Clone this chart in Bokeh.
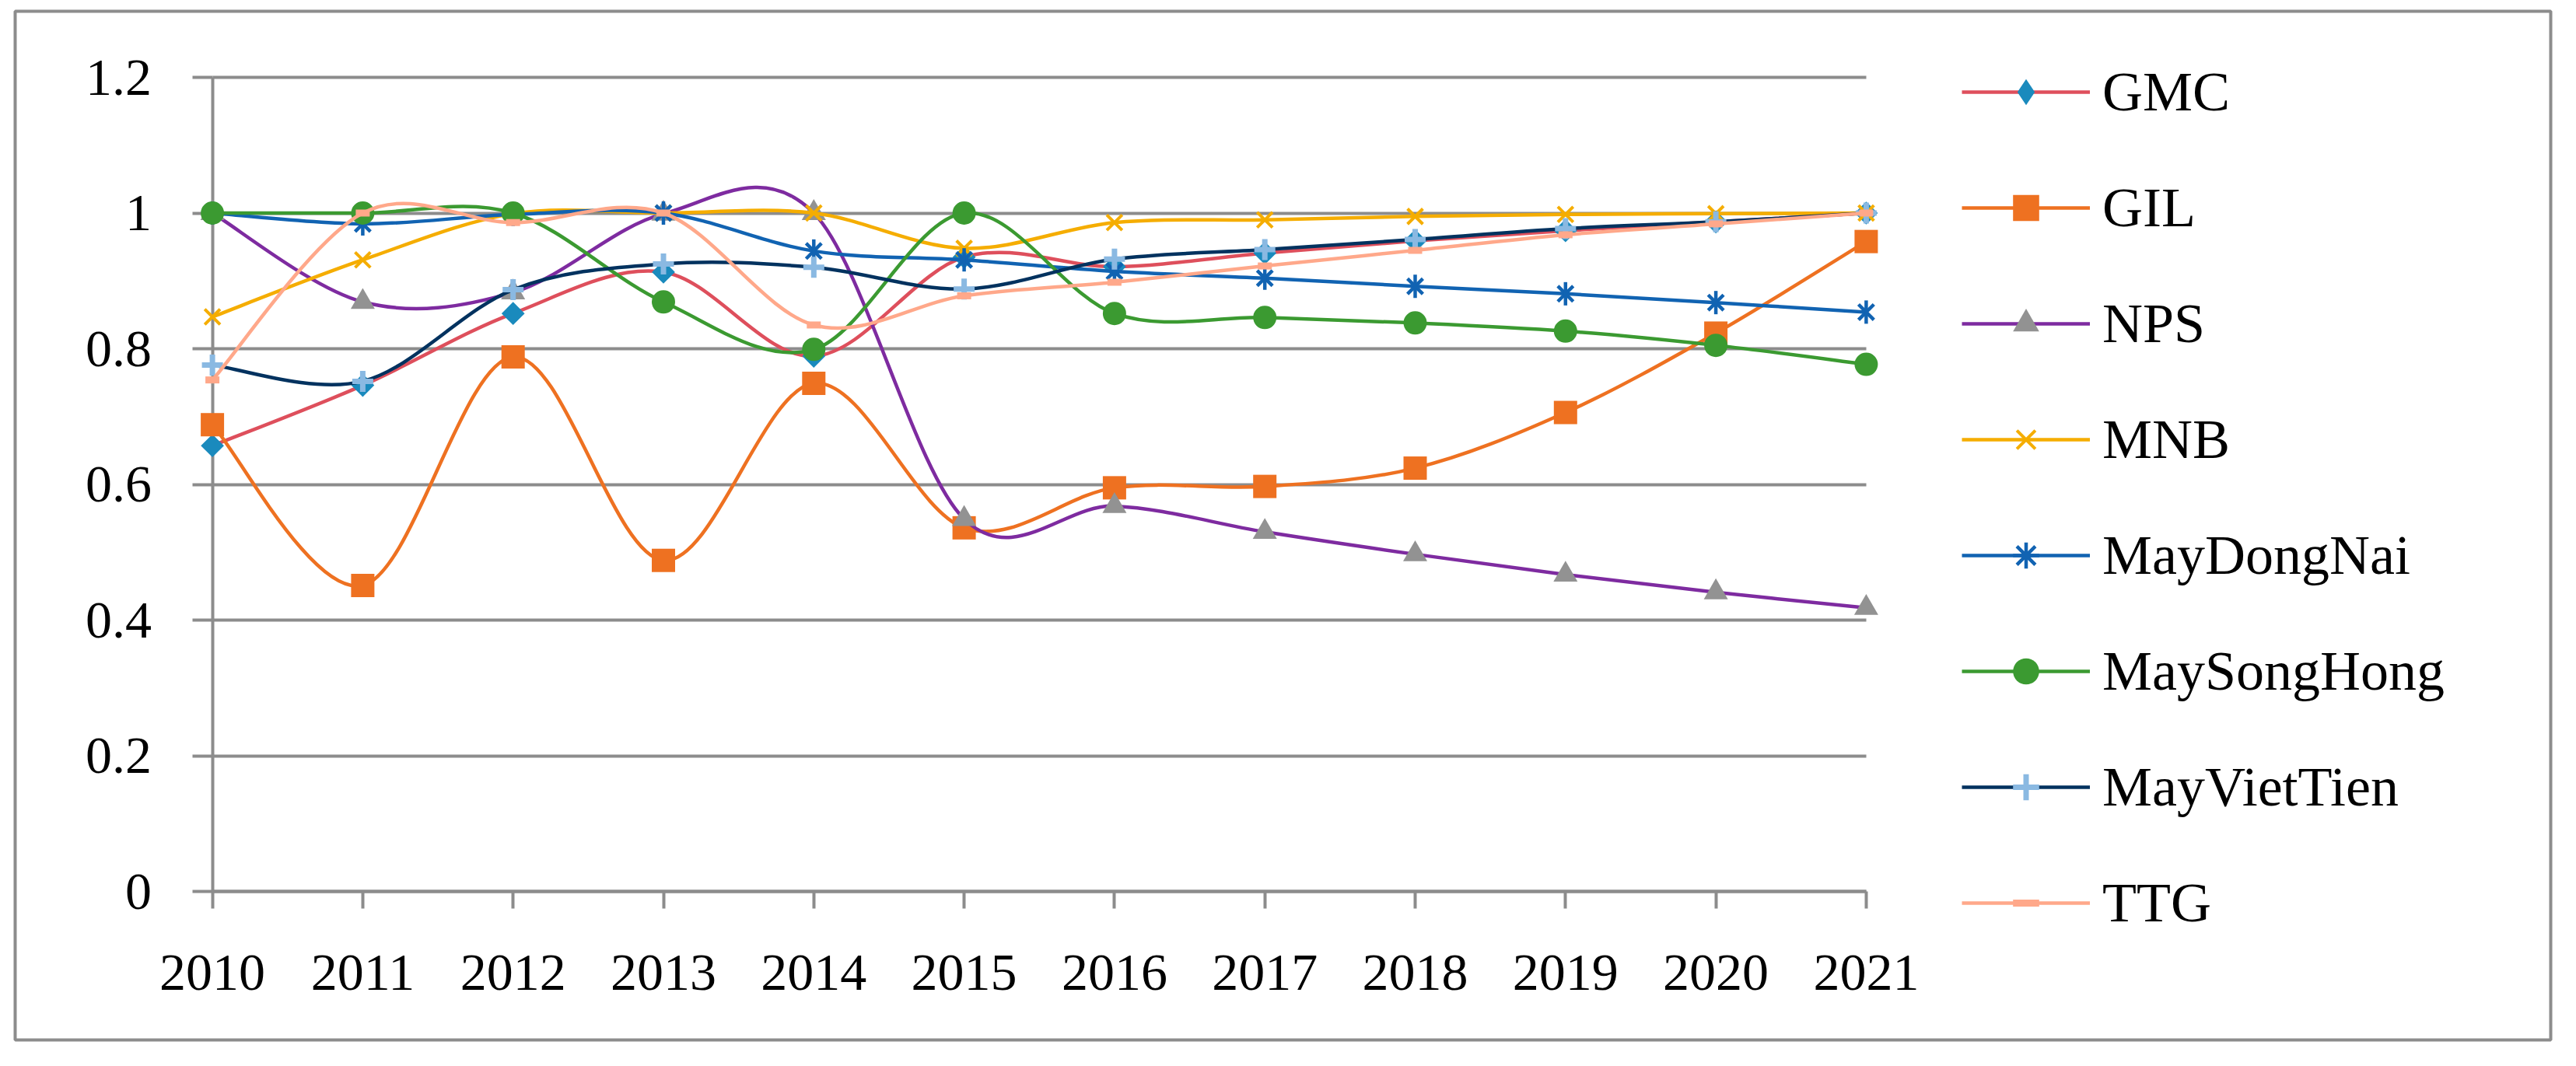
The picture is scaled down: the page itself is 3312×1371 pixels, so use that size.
import math
from bokeh.plotting import figure
from bokeh.models import (Range1d, FixedTicker, NumeralTickFormatter,
                          Legend, LegendItem, ColumnDataSource, Grid)
from bokeh.embed import file_html
from bokeh.resources import INLINE

# ---------------- data ----------------
years = [2010, 2011, 2012, 2013, 2014, 2015, 2016, 2017, 2018, 2019, 2020, 2021]
y_ticks = [0, 0.2, 0.4, 0.6, 0.8, 1, 1.2]

names = ["GMC", "GIL", "NPS", "MNB", "MayDongNai", "MaySongHong", "MayVietTien", "TTG"]

gmc = [0.657, 0.746, 0.852, 0.913, 0.789, 0.935, 0.921, 0.941, 0.959, 0.974, 0.987, 1.000]
gil = [0.688, 0.451, 0.788, 0.488, 0.749, 0.536, 0.595, 0.597, 0.624, 0.706, 0.823, 0.958]
nps = [1.000, 0.869, 0.883, 0.999, 1.000, 0.549, 0.568, 0.530, 0.497, 0.467, 0.441, 0.418]
mnb = [0.847, 0.931, 0.999, 1.000, 1.000, 0.948, 0.986, 0.990, 0.995, 0.998, 0.999, 1.000]
maydongnai = [1.000, 0.984, 0.998, 1.000, 0.944, 0.931, 0.914, 0.904, 0.892, 0.881, 0.868, 0.854]
maysonghong = [1.000, 1.000, 1.000, 0.869, 0.799, 1.000, 0.852, 0.846, 0.838, 0.826, 0.805, 0.777]
mayviettien = [0.776, 0.752, 0.887, 0.925, 0.920, 0.888, 0.932, 0.946, 0.961, 0.977, 0.987, 1.000]
ttg = [0.754, 1.000, 0.986, 1.000, 0.835, 0.878, 0.898, 0.922, 0.945, 0.968, 0.984, 1.000]

series_values = [gmc, gil, nps, mnb, maydongnai, maysonghong, mayviettien, ttg]

# ---------------- styles ----------------
GRAY = "#8c8c8c"
FONT = "Liberation Serif"
line_colors = ["#DE4F5C", "#EE7121", "#7E2BA0", "#F5AD00", "#1163B2", "#3B9A31", "#02325F", "#FFA88A"]
LW = 4.5

# marker specs per series: (marker, size, angle, fill, line, line_width)
plot_markers = [
    [("square", 21, math.pi / 4, "#1A8ABD", None, 0)],
    [("square", 30, 0, "#EE7121", None, 0)],
    [("triangle", 31, 0, "#929292", None, 0)],
    [("x", 28, 0, None, "#F5AD00", 4)],
    [("x", 28, 0, None, "#1163B2", 4.5), ("dash", 30, math.pi / 2, None, "#1163B2", 4.5)],
    [("circle", 30, 0, "#3B9A31", None, 0)],
    [("cross", 27, 0, None, "#8AB9E2", 7)],
    [("dash", 18, 0, None, "#FFA88A", 9)],
]
legend_markers = [
    [("diamond", "#1A8ABD", None, 0)],
    [("square", "#EE7121", None, 0)],
    [("triangle", "#929292", None, 0)],
    [("x", None, "#F5AD00", 4)],
    [("asterisk", None, "#1163B2", 4.5)],
    [("circle", "#3B9A31", None, 0)],
    [("cross", None, "#8AB9E2", 7)],
    [("dash", None, "#FFA88A", 9)],
]


def bezier_source(xs, ys):
    """Smoothed-line segments (Excel-like) as cubic Bezier curves through the data points."""
    n = len(xs)
    d = dict(x0=[], y0=[], x1=[], y1=[], cx0=[], cy0=[], cx1=[], cy1=[])
    for i in range(n - 1):
        ip = max(i - 1, 0)
        inn = min(i + 2, n - 1)
        d["x0"].append(xs[i]); d["y0"].append(ys[i])
        d["x1"].append(xs[i + 1]); d["y1"].append(ys[i + 1])
        d["cx0"].append(xs[i] + (xs[i + 1] - xs[ip]) / 6.0)
        d["cy0"].append(ys[i] + (ys[i + 1] - ys[ip]) / 6.0)
        d["cx1"].append(xs[i + 1] - (xs[inn] - xs[i]) / 6.0)
        d["cy1"].append(ys[i + 1] - (ys[inn] - ys[i]) / 6.0)
    return ColumnDataSource(d)


# ---------------- figure ----------------
W, H = 3296, 1355
B_L, B_R, B_T, B_B = 19, 17, 14, 18          # outer chart border (frame outline)
PX_YEAR = 193.3                               # pixels per year
PX_UNIT = 872.5                               # pixels per 1.0 on the value axis
X0_PX, Y0_PX = 272.6, 1146.0                  # canvas position of (2010, 0)

x_start = years[0] - (X0_PX - B_L) / PX_YEAR
x_end = x_start + (W - B_L - B_R) / PX_YEAR
y_start = -((H - B_B) - Y0_PX) / PX_UNIT
y_end = (Y0_PX - B_T) / PX_UNIT

p = figure(width=W, height=H, output_backend="svg", toolbar_location=None,
           x_range=Range1d(x_start, x_end), y_range=Range1d(y_start, y_end),
           min_border_left=B_L, min_border_right=B_R, min_border_top=B_T, min_border_bottom=B_B)
p.outline_line_color = GRAY
p.outline_line_width = 4
p.background_fill_color = "white"
p.border_fill_color = "white"

# grid
p.xgrid.visible = False
p.ygrid.ticker = FixedTicker(ticks=y_ticks)
p.ygrid.grid_line_color = GRAY
p.ygrid.grid_line_width = 4
if "cross_bounds" in Grid.properties():
    p.ygrid.cross_bounds = (years[0], years[-1])

# y axis (fixed at the first category, like Excel)
p.yaxis.fixed_location = years[0]
p.yaxis.bounds = (y_ticks[0], y_ticks[-1])
p.yaxis.ticker = FixedTicker(ticks=y_ticks)
p.yaxis.formatter = NumeralTickFormatter(format="0.[0]")
p.yaxis.axis_line_color = GRAY
p.yaxis.axis_line_width = 4
p.yaxis.major_tick_line_color = GRAY
p.yaxis.major_tick_line_width = 4
p.yaxis.minor_tick_line_color = None
p.yaxis.major_tick_out = 26
p.yaxis.major_tick_in = 0
p.yaxis.major_label_standoff = 52
p.yaxis.major_label_text_font = FONT
p.yaxis.major_label_text_font_size = "68px"
p.yaxis.major_label_text_color = "black"
p.yaxis.level = "underlay"

# x axis (fixed at value 0)
p.xaxis.fixed_location = 0
p.xaxis.bounds = (years[0], years[-1])
p.xaxis.ticker = FixedTicker(ticks=years)
p.xaxis.axis_line_color = GRAY
p.xaxis.axis_line_width = 4
p.xaxis.major_tick_line_color = GRAY
p.xaxis.major_tick_line_width = 4
p.xaxis.major_tick_out = 22
p.xaxis.major_tick_in = 0
p.xaxis.minor_tick_line_color = None
p.xaxis.major_label_standoff = 60
p.xaxis.major_label_text_font = FONT
p.xaxis.major_label_text_font_size = "68px"
p.xaxis.major_label_text_color = "black"
p.xaxis.level = "underlay"

# ---------------- series ----------------
legend_items = []
nan = float("nan")
for name, vals, lc, pm, lm in zip(names, series_values, line_colors, plot_markers, legend_markers):
    p.bezier(x0="x0", y0="y0", x1="x1", y1="y1", cx0="cx0", cy0="cy0", cx1="cx1", cy1="cy1",
             source=bezier_source(years, vals), line_color=lc, line_width=LW, line_cap="round")
    for (mk, sz, ang, fc, mlc, mlw) in pm:
        p.scatter(x=years, y=vals, marker=mk, size=sz, angle=ang,
                  fill_color=fc, line_color=mlc, line_width=mlw)
    # legend-only glyphs (not drawn in the plot area: NaN position)
    rs = [p.line(x=[nan], y=[nan], line_color=lc, line_width=LW)]
    for (mk, fc, mlc, mlw) in lm:
        rs.append(p.scatter(x=[nan], y=[nan], marker=mk, fill_color=fc, line_color=mlc,
                            line_width=mlw))
    legend_items.append(LegendItem(label=name, renderers=rs))

ITEM_H, ITEM_GAP = 84, 65
legend_top = 118 - ITEM_H / 2
legend_h = len(names) * ITEM_H + (len(names) - 1) * ITEM_GAP
legend = Legend(items=legend_items,
                location=(2522 - B_L, (H - B_B) - (legend_top + legend_h)),
                orientation="vertical",
                glyph_width=165, glyph_height=ITEM_H, label_height=ITEM_H, spacing=ITEM_GAP,
                padding=0, margin=0, label_standoff=16,
                border_line_color=None, background_fill_alpha=0,
                label_text_font=FONT, label_text_font_size="72px", label_text_color="black")
p.add_layout(legend)

open("out.html", "w").write(file_html(p, INLINE))
